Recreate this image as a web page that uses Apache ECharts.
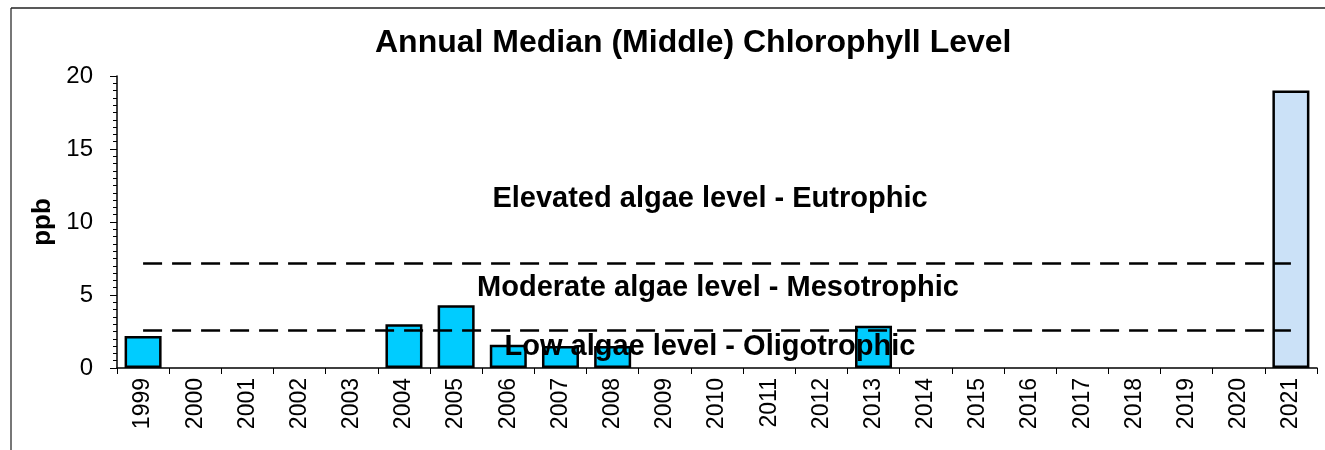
<!DOCTYPE html>
<html>
<head>
<meta charset="utf-8">
<script src="https://cdn.jsdelivr.net/npm/echarts@6/dist/echarts.min.js"></script>
<style>
  html, body { margin: 0; padding: 0; background: #fff; }
  #main { width: 1325px; height: 450px; }
</style>
</head>
<body>
<div id="main"></div>
<script>
// years on the x axis
const years = ['1999', '2000', '2001', '2002', '2003', '2004', '2005', '2006', '2007', '2008',
  '2009', '2010', '2011', '2012', '2013', '2014', '2015', '2016', '2017', '2018', '2019', '2020', '2021']
// median chlorophyll, ppb (null = no sample)
const medianPpb = [2.2, null, null, null, null, 3.0, 4.3, 1.6, 1.5, 1.5,
  null, null, null, null, 2.9, null, null, null, null, null, null, null, 19.0]
const currentYear = '2021'
// trophic boundaries
const oligoBound = 2.6
const eutroBound = 7.2
const yTicks = [0, 5, 10, 15, 20]
// zone labels and the value they sit at
const zoneNames = ['Elevated algae level - Eutrophic', 'Moderate algae level - Mesotrophic', 'Low algae level - Oligotrophic']
const zoneLabelAt = [11.55, 5.45, 1.45]

const font = '"Liberation Sans", Arial, sans-serif'
const chart = echarts.init(document.getElementById('main'))

const barData = medianPpb.map((v, i) => {
  if (years[i] === currentYear) {
    return { value: v, itemStyle: { color: '#CBE1F7' } }
  }
  return v
})

function boundLine(val) {
  return [{ coord: [years[0], val] }, { coord: [years[years.length - 1], val] }]
}

const option = {
  animation: false,
  backgroundColor: '#fff',
  title: {
    text: 'Annual Median (Middle) Chlorophyll Level',
    left: 370,
    top: 22,
    textStyle: { fontFamily: font, fontSize: 32, fontWeight: 'bold', color: '#000' }
  },
  grid: { left: 117, right: 8, top: 76, bottom: 82 },
  xAxis: {
    type: 'category',
    data: years,
    axisLine: { lineStyle: { color: '#000', width: 1.5 } },
    axisTick: { show: true, length: 6, lineStyle: { color: '#000' } },
    axisLabel: { rotate: 90, margin: 10, fontFamily: font, fontSize: 23, color: '#000', interval: 0 },
    splitLine: { show: false }
  },
  yAxis: {
    type: 'value',
    min: yTicks[0],
    max: yTicks[yTicks.length - 1],
    interval: 5,
    name: 'ppb',
    nameLocation: 'middle',
    nameRotate: 90,
    nameGap: 58,
    nameTextStyle: { fontFamily: font, fontSize: 26, fontWeight: 'bold', color: '#000' },
    axisLine: { show: true, lineStyle: { color: '#000', width: 1.5 } },
    axisTick: { show: true, length: 7, lineStyle: { color: '#000' } },
    minorTick: { show: true, splitNumber: 10, length: 4, lineStyle: { color: '#000' } },
    axisLabel: { margin: 24, fontFamily: font, fontSize: 24, color: '#000' },
    splitLine: { show: false }
  },
  series: [
    {
      type: 'bar',
      data: barData,
      barWidth: 37,
      itemStyle: { color: '#00CCFF', borderColor: '#000', borderWidth: 2.5 }
    },
    {
      type: 'line',
      data: [],
      z: 5,
      markLine: {
        silent: true,
        symbol: 'none',
        label: { show: false },
        lineStyle: { color: '#000', width: 2.5, type: [19, 10] },
        data: [boundLine(eutroBound), boundLine(oligoBound)]
      }
    }
  ]
}

chart.setOption(option)

// zone labels, placed at their value on the y axis
const centers = [710, 718, 710]
chart.setOption({
  graphic: zoneNames.map((t, i) => ({
    type: 'text',
    z: 100,
    x: centers[i],
    y: chart.convertToPixel({ yAxisIndex: 0 }, zoneLabelAt[i]),
    style: {
      text: t,
      fill: '#000',
      font: 'bold 29px ' + font,
      textAlign: 'center',
      textVerticalAlign: 'middle'
    }
  })).concat([
    // outer frame, left and top edges
    { type: 'line', shape: { x1: 11, y1: 8, x2: 11, y2: 450 }, style: { stroke: '#777', lineWidth: 2 } },
    { type: 'line', shape: { x1: 11, y1: 8, x2: 1325, y2: 8 }, style: { stroke: '#222', lineWidth: 1.5 } }
  ])
})
</script>
</body>
</html>
